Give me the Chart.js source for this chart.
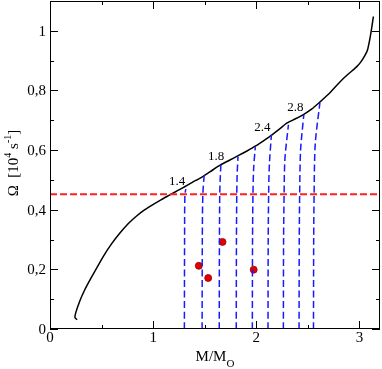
<!DOCTYPE html>
<html>
<head>
<meta charset="utf-8">
<script src="https://cdn.jsdelivr.net/npm/chart.js@4"></script>
<style>
  html, body { margin: 0; padding: 0; background: #fff; }
  #wrap { width: 382px; height: 369px; position: relative; }
</style>
</head>
<body>
<div id="wrap"><canvas id="chart"></canvas></div>
<script>
// sequence curve M/Mo vs Omega (black)
var curveM = [0.263, 0.242, 0.25, 0.29, 0.335, 0.40, 0.516, 0.60, 0.678, 0.76, 0.84, 0.92, 1.002, 1.08, 1.164, 1.236, 1.31, 1.38, 1.456, 1.55, 1.657, 1.74, 1.829, 1.91, 1.991, 2.07, 2.153, 2.23, 2.299, 2.38, 2.461, 2.54, 2.607, 2.70, 2.786, 2.86, 2.93, 2.975, 3.013, 3.05, 3.078, 3.10, 3.115, 3.126, 3.136];
var curveW = [0.031, 0.038, 0.055, 0.095, 0.13, 0.172, 0.243, 0.287, 0.322, 0.354, 0.379, 0.400, 0.418, 0.434, 0.450, 0.464, 0.478, 0.492, 0.506, 0.527, 0.551, 0.566, 0.582, 0.597, 0.613, 0.631, 0.651, 0.672, 0.691, 0.705, 0.72, 0.738, 0.758, 0.787, 0.819, 0.845, 0.866, 0.88, 0.895, 0.915, 0.935, 0.97, 1.0, 1.025, 1.048];

// blue dashed tracks, one pair of arrays per track
var trackM = [
  [1.303, 1.305, 1.308, 1.317],
  [1.475, 1.477, 1.482, 1.496],
  [1.641, 1.643, 1.646, 1.650, 1.657],
  [1.806, 1.808, 1.811, 1.815, 1.823],
  [1.962, 1.964, 1.968, 1.975, 1.991],
  [2.114, 2.116, 2.120, 2.127, 2.147],
  [2.263, 2.265, 2.270, 2.278, 2.312],
  [2.415, 2.417, 2.421, 2.430, 2.461],
  [2.555, 2.557, 2.561, 2.572, 2.617]
];
var trackW = [
  [0, 0.30, 0.45, 0.469],
  [0, 0.30, 0.45, 0.520],
  [0, 0.30, 0.45, 0.50, 0.550],
  [0, 0.30, 0.45, 0.52, 0.579],
  [0, 0.30, 0.45, 0.54, 0.610],
  [0, 0.30, 0.45, 0.55, 0.651],
  [0, 0.30, 0.45, 0.57, 0.685],
  [0, 0.30, 0.45, 0.60, 0.718],
  [0, 0.30, 0.45, 0.62, 0.758]
];

// labels on tracks
var labelText = ["1.4", "1.8", "2.4", "2.8"];
var labelM = [1.232, 1.612, 2.06, 2.38];
var labelW = [0.494, 0.578, 0.675, 0.742];

// observed points (red)
var obsM = [1.443, 1.534, 1.673, 1.975];
var obsW = [0.212, 0.171, 0.292, 0.199];

// horizontal limit
var limitW = 0.452;

var xTicks = [0, 1, 2, 3];
var yTicks = [0, 0.2, 0.4, 0.6, 0.8, 1];
var X_MIN = 0, X_MAX = 3.2, Y_MIN = 0, Y_MAX = 1.1;

function pts(xs, ys) {
  var out = [];
  for (let i = 0; i < xs.length; i++) out.push({x: xs[i], y: ys[i]});
  return out;
}

var datasets = [];
for (let i = 0; i < trackM.length; i++) {
  datasets.push({
    data: pts(trackM[i], trackW[i]),
    showLine: true, borderColor: '#1a1aff', borderWidth: 1.5,
    borderDash: [7, 3.5], pointRadius: 0, tension: 0.3, fill: false
  });
}
datasets.push({
  data: pts([X_MIN, X_MAX], [limitW, limitW]),
  showLine: true, borderColor: '#ff2020', borderWidth: 2,
  borderDash: [7, 3], pointRadius: 0, fill: false
});
datasets.push({
  data: pts(curveM, curveW),
  showLine: true, borderColor: '#000', borderWidth: 1.5,
  pointRadius: 0, tension: 0.2, fill: false
});
datasets.push({
  data: pts(obsM, obsW),
  showLine: false, pointRadius: 3.5, pointBackgroundColor: '#e00000',
  pointBorderColor: '#a00000', pointBorderWidth: 0.8
});

var SERIF = '"Liberation Serif", "DejaVu Serif", serif';

// frame, inward ticks, tick labels, titles, track labels
var decor = {
  id: 'decor',
  afterDraw: function(chart) {
    var ctx = chart.ctx, a = chart.chartArea;
    var xs = chart.scales.x, ys = chart.scales.y;
    ctx.save();
    ctx.strokeStyle = '#000';
    ctx.lineWidth = 1;
    ctx.strokeRect(a.left + 0.5, a.top + 0.5, a.right - a.left - 1, a.bottom - a.top - 1);
    ctx.beginPath();
    for (let v = 0; v <= X_MAX + 1e-9; v += 0.5) {
      var px = Math.round(xs.getPixelForValue(v)) + 0.5;
      var len = (Math.abs(v - Math.round(v)) < 1e-6) ? 8 : 4;
      ctx.moveTo(px, a.bottom); ctx.lineTo(px, a.bottom - len);
      ctx.moveTo(px, a.top); ctx.lineTo(px, a.top + len);
    }
    for (let k = 0; k <= 11; k++) {
      var py = Math.round(ys.getPixelForValue(k / 10)) + 0.5;
      var len2 = (k % 2 === 0) ? 8 : 4;
      ctx.moveTo(a.left, py); ctx.lineTo(a.left + len2, py);
      ctx.moveTo(a.right, py); ctx.lineTo(a.right - len2, py);
    }
    ctx.stroke();

    ctx.fillStyle = '#000';
    // tick labels
    ctx.font = '15px ' + SERIF;
    ctx.textAlign = 'right';
    ctx.textBaseline = 'middle';
    yTicks.forEach(function(v) {
      ctx.fillText(String(v).replace('.', ','), a.left - 4, ys.getPixelForValue(v) + 1);
    });
    ctx.textAlign = 'center';
    ctx.textBaseline = 'top';
    xTicks.forEach(function(v) {
      ctx.fillText(String(v), xs.getPixelForValue(v), a.bottom + 2);
    });

    // track labels
    ctx.font = '13px ' + SERIF;
    ctx.textAlign = 'center';
    ctx.textBaseline = 'middle';
    for (let i = 0; i < labelText.length; i++) {
      ctx.fillText(labelText[i], xs.getPixelForValue(labelM[i]), ys.getPixelForValue(labelW[i]));
    }

    // x title M/M_O
    ctx.textBaseline = 'alphabetic';
    ctx.textAlign = 'left';
    ctx.font = '15px ' + SERIF;
    var main = 'M/M';
    var w1 = ctx.measureText(main).width;
    ctx.font = '11px ' + SERIF;
    var w2 = ctx.measureText('O').width;
    var sx = (a.left + a.right) / 2 - (w1 + w2) / 2;
    ctx.font = '15px ' + SERIF;
    ctx.fillText(main, sx, 361);
    ctx.font = '11px ' + SERIF;
    ctx.fillText('O', sx + w1, 367);

    // y title  Omega [10^4 s^-1]
    ctx.translate(18, 163);
    ctx.rotate(-Math.PI / 2);
    var parts = [
      ['\u03A9  [10', '15px', 0],
      ['4', '10px', -7],
      [' s', '15px', 0],
      ['-1', '10px', -7],
      [']', '15px', 0]
    ];
    var total = 0;
    parts.forEach(function(p) { ctx.font = p[1] + ' ' + SERIF; total += ctx.measureText(p[0]).width; });
    var px2 = -total / 2;
    parts.forEach(function(p) {
      ctx.font = p[1] + ' ' + SERIF;
      ctx.fillText(p[0], px2, p[2]);
      px2 += ctx.measureText(p[0]).width;
    });
    ctx.restore();
  }
};

new Chart(document.getElementById('chart'), {
  type: 'scatter',
  data: { datasets: datasets },
  options: {
    responsive: true,
    maintainAspectRatio: false,
    animation: false,
    layout: { autoPadding: false, padding: { top: 1, right: 2, left: 0, bottom: 0 } },
    plugins: { legend: { display: false }, tooltip: { enabled: false } },
    scales: {
      x: {
        type: 'linear', min: X_MIN, max: X_MAX,
        grid: { display: false, drawTicks: false },
        border: { display: false },
        ticks: { display: false },
        afterFit: function(s) { s.height = 40; }
      },
      y: {
        type: 'linear', min: Y_MIN, max: Y_MAX,
        grid: { display: false, drawTicks: false },
        border: { display: false },
        ticks: { display: false },
        afterFit: function(s) { s.width = 50; }
      }
    }
  },
  plugins: [decor]
});
</script>
</body>
</html>
